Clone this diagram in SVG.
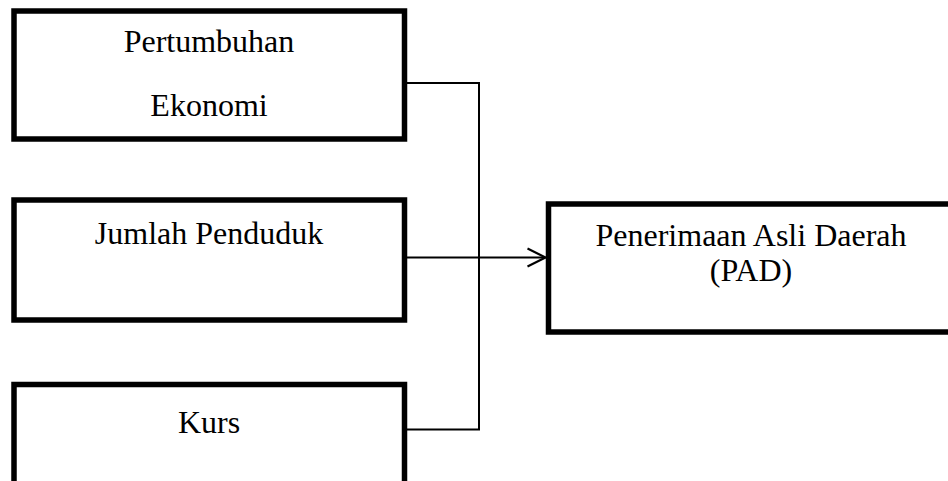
<svg xmlns="http://www.w3.org/2000/svg" width="948" height="481" viewBox="0 0 948 481">
<style>
.box{fill:#fff;stroke:#000;stroke-width:5.5}
.t{font-family:"Liberation Serif","Times New Roman",serif;font-size:32px;fill:#000;text-anchor:middle}
.c{fill:none;stroke:#000;stroke-width:2}
</style>
<defs>
<marker id="arr" markerUnits="userSpaceOnUse" markerWidth="22" markerHeight="22" refX="19" refY="10" orient="auto" viewBox="0 0 22 20">
<path d="M1,1 L19,10 L1,19" fill="none" stroke="#000" stroke-width="2.2"/>
</marker>
</defs>
<rect width="948" height="481" fill="#fff"/>
<g id="connectors">
<path class="c" d="M404.5,83 H479 V429.5 H404.5"/>
<path class="c" d="M404.5,257.5 H545.5" marker-end="url(#arr)"/>
</g>
<g id="node-pertumbuhan">
<rect class="box" x="14" y="11" width="390.5" height="128"/>
<text class="t" x="209" y="52">Pertumbuhan</text>
<text class="t" x="209" y="116">Ekonomi</text>
</g>
<g id="node-jumlah">
<rect class="box" x="14" y="200" width="390.5" height="120"/>
<text class="t" x="209" y="244">Jumlah Penduduk</text>
</g>
<g id="node-kurs">
<rect class="box" x="14" y="384.5" width="390.5" height="120"/>
<text class="t" x="209" y="433">Kurs</text>
</g>
<g id="node-pad">
<rect class="box" x="548.5" y="204" width="405" height="128"/>
<text class="t" x="751" y="246">Penerimaan Asli Daerah</text>
<text class="t" x="751" y="281">(PAD)</text>
</g>
</svg>
